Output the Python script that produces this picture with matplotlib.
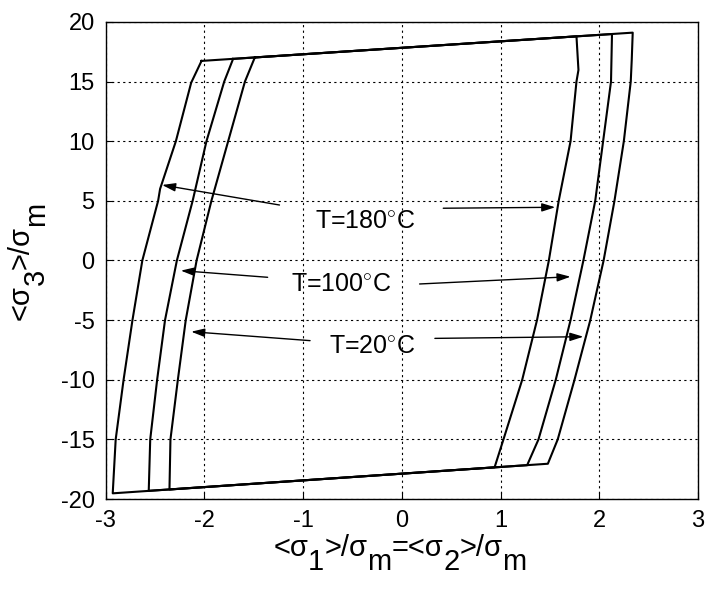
import matplotlib
matplotlib.use("Agg")
import matplotlib.pyplot as plt
from matplotlib.transforms import IdentityTransform

plt.rcParams["font.family"] = ["Liberation Sans", "DejaVu Sans"]
plt.rcParams["mathtext.fontset"] = "custom"
plt.rcParams["mathtext.rm"] = "Liberation Sans"
plt.rcParams["mathtext.it"] = "Liberation Sans"
plt.rcParams["mathtext.bf"] = "Liberation Sans:bold"
plt.rcParams["axes.unicode_minus"] = False

# closed hysteresis loops (top-left corner first, clockwise)
x_180 = [-2.03, 1.77, 1.79, 1.77, 1.71, 1.59, 1.49, 1.37, 1.22, 1.03, 0.94,
         -2.93, -2.90, -2.82, -2.73, -2.63, -2.47, -2.45, -2.29, -2.135, -2.03]
y_180 = [16.73, 18.79, 15.97, 15.0, 10.0, 5.0, 0.0, -5.0, -10.0, -15.0, -17.34,
         -19.52, -15.0, -10.0, -5.0, 0.0, 5.0, 6.0, 10.0, 14.9, 16.73]

x_100 = [-1.71, 2.13, 2.12, 2.04, 1.96, 1.84, 1.71, 1.56, 1.385, 1.27,
         -2.565, -2.55, -2.48, -2.40, -2.28, -2.12, -1.98, -1.80, -1.71]
y_100 = [16.90, 18.98, 15.0, 10.0, 5.0, 0.0, -5.0, -10.0, -15.0, -17.16,
         -19.31, -15.0, -10.0, -5.0, 0.0, 5.0, 10.0, 15.0, 16.90]

x_20 = [-1.49, 2.34, 2.33, 2.32, 2.25, 2.155, 2.045, 1.91, 1.75, 1.58, 1.48,
        -2.355, -2.345, -2.27, -2.19, -2.08, -1.93, -1.76, -1.59, -1.49]
y_20 = [17.02, 19.10, 16.8, 15.0, 10.0, 5.0, 0.0, -5.0, -10.0, -15.0, -17.04,
        -19.20, -15.0, -10.0, -5.0, 0.0, 5.0, 10.0, 15.0, 17.02]

labels = ["T=180$^{\\circ}$C", "T=100$^{\\circ}$C", "T=20$^{\\circ}$C"]
label_xy = [(-0.37, 3.3), (-0.62, -2.0), (-0.30, -7.2)]
# (tail, head) of the arrows
arrows_left = [((-1.24, 4.65), (-2.43, 6.33)),
               ((-1.36, -1.41), (-2.24, -0.85)),
               ((-0.93, -6.72), (-2.135, -5.97))]
arrows_right = [((0.42, 4.38), (1.555, 4.46)),
                ((0.18, -1.97), (1.71, -1.36)),
                ((0.335, -6.53), (1.84, -6.39))]

# axis labels, MATLAB style: subscripts at full size, dropped below the baseline
xlabel_parts = [("<σ", 0), ("1", 1), (">/σ", 0), ("m", 1),
                ("=<σ", 0), ("2", 1), (">/σ", 0), ("m", 1)]
ylabel_parts = [("<σ", 0), ("3", 1), (">/σ", 0), ("m", 1)]


def sub_label(fig, parts, size, center, base, drop, vertical=False):
    # place pieces one after another in pixel coords
    r = fig.canvas.get_renderer()
    rot = 90 if vertical else 0
    texts, lens = [], []
    for s, sub in parts:
        t = fig.text(0, 0, s, fontsize=size, rotation=rot, rotation_mode="anchor",
                     ha="left", va="baseline", transform=IdentityTransform())
        bb = t.get_window_extent(r)
        texts.append((t, sub))
        lens.append(bb.height if vertical else bb.width)
    pos = center - sum(lens) / 2
    for (t, sub), ln in zip(texts, lens):
        if vertical:
            t.set_position((base + drop * sub, pos))
        else:
            t.set_position((pos, base - drop * sub))
        pos += ln


fig = plt.figure(figsize=(7.15, 5.92), dpi=100)
ax = fig.add_axes([0.148, 0.157, 0.828, 0.806])

for xs, ys in [(x_180, y_180), (x_100, y_100), (x_20, y_20)]:
    ax.plot(xs, ys, color="black", lw=1.5)

for txt, (tx, ty) in zip(labels, label_xy):
    ax.text(tx, ty, txt, fontsize=18, ha="center", va="center")

for tail, head in arrows_left + arrows_right:
    ax.annotate("", xy=head, xytext=tail,
                arrowprops=dict(arrowstyle="-|>,head_length=0.8,head_width=0.25",
                                color="black", lw=1.0, shrinkA=0, shrinkB=0))

ax.set_xlim(-3, 3)
ax.set_ylim(-20, 20)
ax.set_xticks(range(-3, 4))
ax.set_yticks(range(-20, 21, 5))
ax.grid(True, color="black", linestyle=(0, (2, 3)), linewidth=0.8)
ax.tick_params(direction="in", length=5, labelsize=17, pad=8)
for sp in ax.spines.values():
    sp.set_linewidth(1.0)

sub_label(fig, xlabel_parts, 21, center=400, base=592 - 556, drop=14)
sub_label(fig, ylabel_parts, 21, center=592 - 261, base=29, drop=15, vertical=True)

fig.savefig("out.png", dpi=100)
